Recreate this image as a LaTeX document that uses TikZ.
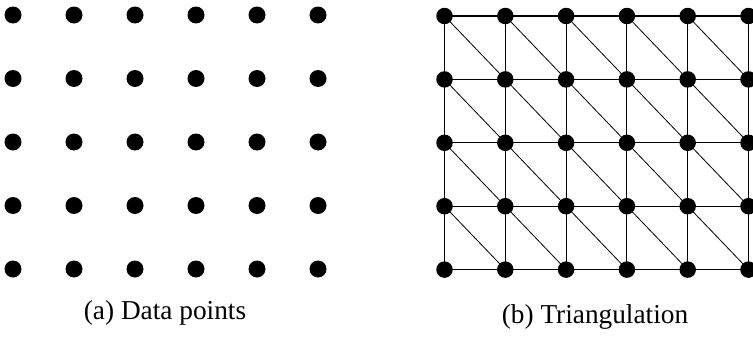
\documentclass[tikz,border=0pt]{standalone}
\usepackage{fontspec}
\setmainfont{Liberation Serif}
\usetikzlibrary{backgrounds}
\tikzset{
  dotnode/.style={circle,fill=black,inner sep=0pt,minimum size=17pt},
  dotnodeb/.style={circle,fill=black,inner sep=0pt,minimum size=16.5pt},
  gridline/.style={line width=1.1pt},
  diagline/.style={line width=0.8pt},
  caption/.style={font=\fontsize{27.3}{30}\selectfont,anchor=base}
}
\begin{document}
\begin{tikzpicture}[x=1pt,y=-1pt]
\useasboundingbox (0,0) rectangle (753,340);
% left grid of data points
\foreach \i in {0,...,5}{
  \foreach \j in {0,...,4}{
    \node[dotnode] (a\i\j) at ({13+61*\i},{15+63.5*\j}) {};
  }
}
% right triangulation
\foreach \i in {0,...,5}{
  \foreach \j in {0,...,4}{
    \node[dotnodeb] (b\i\j) at ({444.5+60.8*\i},{16+63.4*\j}) {};
  }
}
\begin{scope}[on background layer]
\foreach \i in {0,...,5}{
  \foreach \j [evaluate=\j as \jn using int(\j+1)] in {0,...,3}{
    \draw[gridline] (b\i\j.center) -- (b\i\jn.center);
  }
}
\foreach \i [evaluate=\i as \in using int(\i+1)] in {0,...,4}{
  \foreach \j in {0,...,4}{
    \draw[gridline] (b\i\j.center) -- (b\in\j.center);
  }
}
\foreach \i [evaluate=\i as \in using int(\i+1)] in {0,...,4}{
  \foreach \j [evaluate=\j as \jn using int(\j+1)] in {0,...,3}{
    \draw[diagline] (b\i\j.center) -- (b\in\jn.center);
  }
}
\end{scope}
\node[caption] (capa) at (165,319) {(a) Data points};
\node[caption] (capb) at (595,323) {(b) Triangulation};
\end{tikzpicture}
\end{document}
